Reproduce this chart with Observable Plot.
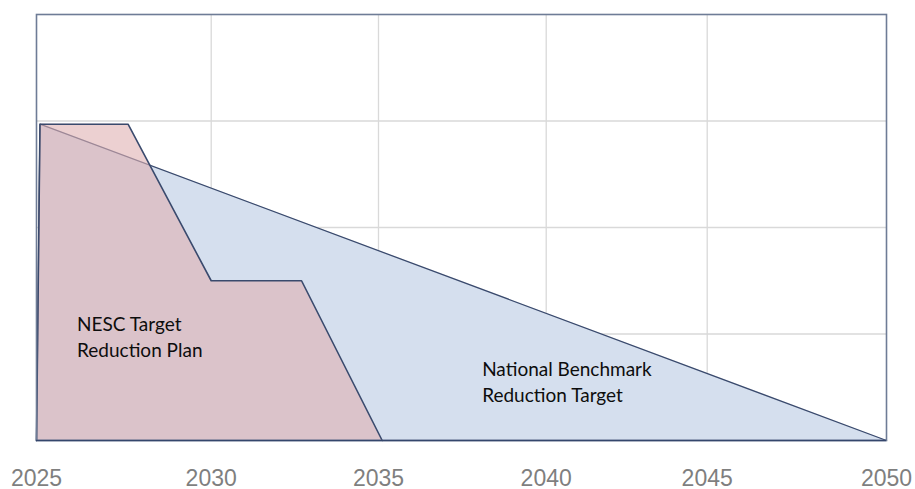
<!DOCTYPE html>
<html>
<head>
<meta charset="utf-8">
<script src="https://cdn.jsdelivr.net/npm/d3@7"></script>
<script src="https://cdn.jsdelivr.net/npm/@observablehq/plot@0.6"></script>
<style>
  html, body { margin: 0; padding: 0; background: #fff; }
  #chart { width: 915px; height: 489px; }
</style>
</head>
<body>
<div id="chart"></div>
<script>
// Tick labels (years)
const yearTicks = [2025, 2030, 2035, 2040, 2045, 2050];

// National Benchmark Reduction Target (relative emission level)
const benchYears  = [2025, 2025.1, 2050];
const benchValues = [0, 2.97, 0];

// NESC Target Reduction Plan
const nescYears  = [2025, 2025.1, 2027.62, 2030, 2032.7, 2035.11];
const nescValues = [0, 2.97, 2.97, 1.5, 1.5, 0];

// Annotations
const labelText  = ["NESC Target\nReduction Plan", "National Benchmark\nReduction Target"];
const labelYear  = [2026.16, 2038.09];
const labelValue = [0.98, 0.565];

const bench = benchYears.map((x, i) => ({x, y: benchValues[i]}));
const nesc = nescYears.map((x, i) => ({x, y: nescValues[i]}));
const labels = labelText.map((t, i) => ({t, x: labelYear[i], y: labelValue[i]}));

const navy = "#3a4a6d";

const chart = Plot.plot({
  width: 915,
  height: 489,
  marginLeft: 36,
  marginRight: 29,
  marginTop: 14,
  marginBottom: 49,
  style: { background: "#fff", overflow: "visible" },
  x: {
    type: "linear",
    domain: [2025, 2030, 2035, 2040, 2045, 2050],
    range: [36, 210.7, 378, 545.7, 706.7, 886]
  },
  y: { domain: [0, 4], axis: null },
  marks: [
    Plot.gridX([2030, 2035, 2040, 2045], { stroke: "#d9d9d9", strokeOpacity: 1, strokeWidth: 1.3 }),
    Plot.gridY([1, 2, 3], { stroke: "#d9d9d9", strokeOpacity: 1, strokeWidth: 1.3 }),
    Plot.areaY(bench, { x: "x", y: "y", fill: "#d5dfee", fillOpacity: 1 }),
    Plot.line(bench, { x: "x", y: "y", stroke: navy, strokeWidth: 1.3 }),
    Plot.areaY(nesc, { x: "x", y: "y", fill: "#e0b0b2", fillOpacity: 0.6 }),
    Plot.line(nesc, { x: "x", y: "y", stroke: navy, strokeWidth: 1.6 }),
    Plot.text(labels, {
      x: "x", y: "y", text: "t",
      textAnchor: "start", lineAnchor: "middle", lineHeight: 1.36,
      fontSize: 19, fontFamily: "Lato", fill: "#0d0d0d"
    }),
    Plot.frame({ stroke: "#6e7c96", strokeWidth: 1.6 }),
    Plot.ruleY([0], { stroke: "#34466c", strokeWidth: 1.6 }),
    Plot.axisX(yearTicks, {
      tickSize: 0, tickPadding: 29, fontSize: 23,
      fontFamily: "Liberation Sans", fill: "#7f7f7f", tickFormat: d => String(d), label: null
    })
  ]
});
document.getElementById("chart").appendChild(chart);
</script>
</body>
</html>
